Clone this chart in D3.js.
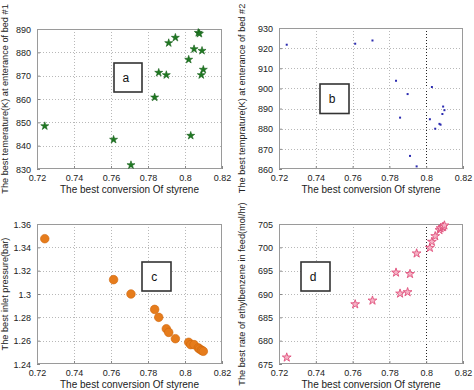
<!DOCTYPE html>
<html>
<head>
<meta charset="utf-8">
<script src="https://cdn.jsdelivr.net/npm/d3@7"></script>
<style>
  html, body { margin: 0; padding: 0; background: #fff; }
  svg { display: block; font-family: "Liberation Sans", Arial, sans-serif; }
</style>
</head>
<body>
<svg id="chart" width="474" height="390"></svg>
<script>
// ---- data ----
const conversion = [0.7242, 0.7614, 0.7708, 0.7836, 0.7858, 0.7899, 0.7912, 0.7948, 0.8020, 0.8031, 0.8049, 0.8072, 0.8078, 0.8088, 0.8092, 0.8099];
const bed1Temp   = [848.4, 842.6, 831.7, 860.7, 871.3, 870.3, 884.0, 886.3, 876.9, 844.3, 881.4, 888.4, 888.0, 870.3, 880.7, 872.6];
const bed2Temp   = [921.7, 922.2, 923.8, 903.8, 885.5, 897.2, 866.5, 861.3, 884.7, 900.7, 880.0, 882.4, 882.0, 887.3, 891.0, 889.2];
const inletPressure = [1.3474, 1.3123, 1.3000, 1.2868, 1.2800, 1.2702, 1.2671, 1.2617, 1.2586, 1.2566, 1.2566, 1.2538, 1.2529, 1.2520, 1.2515, 1.2509];
const ebFeedRate = [676.4, 687.8, 688.6, 694.6, 690.1, 690.4, 694.3, 698.7, 699.9, 701.2, 702.4, 703.7, 704.1, 704.3, 704.4, 704.7];

const xTicks = [0.72, 0.74, 0.76, 0.78, 0.80, 0.82];
const xTickLabels = ["0.72", "0.74", "0.76", "0.78", "0.8", "0.82"];
const bed1Ticks = [830, 840, 850, 860, 870, 880, 890];
const bed2Ticks = [860, 870, 880, 890, 900, 910, 920, 930];
const pressureTicks = [1.24, 1.26, 1.28, 1.30, 1.32, 1.34, 1.36];
const pressureTickLabels = ["1.24", "1.26", "1.28", "1.3", "1.32", "1.34", "1.36"];
const feedTicks = [675, 680, 685, 690, 695, 700, 705];

const xTitle = "The best conversion Of styrene";
const yTitles = [
  "The best temerature(K) at enterance of bed #1",
  "The best temprature(K) at enterance of bed #2",
  "The best inlet pressure(bar)",
  "The best rate of ethylbenzene in feed(mol/hr)"
];
const panelLetters = ["a", "b", "c", "d"];

// ---- layout ----
const panels = [
  { L: 37, T: 29, W: 185, H: 140, y: bed1Temp, yTicks: bed1Ticks, yLabels: bed1Ticks.map(String), yDomain: [830, 890], marker: "starG", box: [114, 63, 28, 29], darkGrid: false, titleX: 8 },
  { L: 279, T: 28, W: 184, H: 141, y: bed2Temp, yTicks: bed2Ticks, yLabels: bed2Ticks.map(String), yDomain: [860, 930], marker: "dot", box: [320, 84, 29, 29.5], darkGrid: true, titleX: 245 },
  { L: 37, T: 224, W: 185, H: 140, y: inletPressure, yTicks: pressureTicks, yLabels: pressureTickLabels, yDomain: [1.24, 1.36], marker: "circle", box: [142, 262, 29, 29], darkGrid: false, titleX: 8 },
  { L: 279, T: 224, W: 184, H: 140, y: ebFeedRate, yTicks: feedTicks, yLabels: feedTicks.map(String), yDomain: [675, 705], marker: "starP", box: [301, 262, 29, 29], darkGrid: true, titleX: 245 }
];

const svg = d3.select("#chart");

panels.forEach((p, i) => {
  const x = d3.scaleLinear().domain([0.72, 0.82]).range([p.L, p.L + p.W]);
  const y = d3.scaleLinear().domain(p.yDomain).range([p.T + p.H, p.T]);
  const g = svg.append("g");

  // grid
  g.selectAll(".vg").data(xTicks.slice(1, -1)).enter().append("line")
    .attr("x1", d => Math.round(x(d)) + 0.5).attr("x2", d => Math.round(x(d)) + 0.5)
    .attr("y1", p.T).attr("y2", p.T + p.H)
    .attr("stroke", d => (p.darkGrid && Math.abs(d - 0.8) < 1e-9) ? "#222" : "#b8b8b8")
    .attr("stroke-width", 1)
    .attr("stroke-dasharray", "1,2");
  g.selectAll(".hg").data(p.yTicks.slice(1, -1)).enter().append("line")
    .attr("y1", d => Math.round(y(d)) + 0.5).attr("y2", d => Math.round(y(d)) + 0.5)
    .attr("x1", p.L).attr("x2", p.L + p.W)
    .attr("stroke", "#b8b8b8")
    .attr("stroke-width", 1)
    .attr("stroke-dasharray", "1,2");

  // axes via d3 axis (ticks inward)
  const xAxis = d3.axisBottom(x).tickValues(xTicks).tickFormat((d, k) => xTickLabels[k]).tickSizeInner(-3).tickSizeOuter(0).tickPadding(6);
  const yAxis = d3.axisLeft(y).tickValues(p.yTicks).tickFormat((d, k) => p.yLabels[k]).tickSizeInner(-3).tickSizeOuter(0).tickPadding(6);
  const gx = g.append("g").attr("transform", `translate(0,${p.T + p.H})`).call(xAxis);
  const gy = g.append("g").attr("transform", `translate(${p.L},0)`).call(yAxis);
  [gx, gy].forEach(a => {
    a.select(".domain").remove();
    a.selectAll("line").attr("stroke", "#888");
    a.selectAll("text").attr("fill", "#222").style("font-size", "9px").style("font-family", "'Liberation Sans', Arial, sans-serif");
  });
  gy.selectAll("text").attr("dy", "0.35em");

  // frame
  g.append("rect")
    .attr("x", p.L + 0.5).attr("y", p.T + 0.5)
    .attr("width", p.W - 1).attr("height", p.H - 1)
    .attr("fill", "none").attr("stroke", "#9a9a9a").attr("stroke-width", 1);

  // titles
  g.append("text")
    .attr("x", p.L + p.W / 2).attr("y", p.T + p.H + 24)
    .attr("text-anchor", "middle").attr("fill", "#222")
    .style("font-size", "10px").text(xTitle);
  g.append("text")
    .attr("transform", `translate(${p.titleX},${p.T + p.H / 2}) rotate(-90)`)
    .attr("text-anchor", "middle").attr("fill", "#222")
    .style("font-size", "9.2px").text(yTitles[i]);

  // annotation box
  g.append("rect")
    .attr("x", p.box[0]).attr("y", p.box[1]).attr("width", p.box[2]).attr("height", p.box[3])
    .attr("fill", "#fff").attr("stroke", "#333").attr("stroke-width", 1.6);
  g.append("text")
    .attr("x", p.box[0] + p.box[2] * 0.42).attr("y", p.box[1] + p.box[3] / 2)
    .attr("dy", "0.35em").attr("text-anchor", "middle").attr("fill", "#111")
    .style("font-size", "12px").text(panelLetters[i]);

  // points
  const pts = conversion.map((c, k) => [c, p.y[k]]);
  if (p.marker === "starG") {
    g.selectAll(".pt").data(pts).enter().append("path")
      .attr("d", d3.symbol().type(d3.symbolStar).size(20))
      .attr("transform", d => `translate(${x(d[0])},${y(d[1])})`)
      .attr("fill", "#1f7a22").attr("stroke", "#15601a").attr("stroke-width", 0.6);
  } else if (p.marker === "dot") {
    g.selectAll(".pt").data(pts).enter().append("rect")
      .attr("x", d => x(d[0]) - 1).attr("y", d => y(d[1]) - 1)
      .attr("width", 2).attr("height", 2)
      .attr("fill", "#2b2bb0");
  } else if (p.marker === "circle") {
    g.selectAll(".pt").data(pts).enter().append("circle")
      .attr("cx", d => x(d[0])).attr("cy", d => y(d[1])).attr("r", 4.3)
      .attr("fill", "#e67c1c").attr("stroke", "#d0660c").attr("stroke-width", 0.6);
  } else {
    g.selectAll(".pt").data(pts).enter().append("path")
      .attr("d", d3.symbol().type(d3.symbolStar).size(24))
      .attr("transform", d => `translate(${x(d[0])},${y(d[1])})`)
      .attr("fill", "#f6b3c6").attr("stroke", "#e0507c").attr("stroke-width", 0.9);
  }
});
</script>
</body>
</html>
